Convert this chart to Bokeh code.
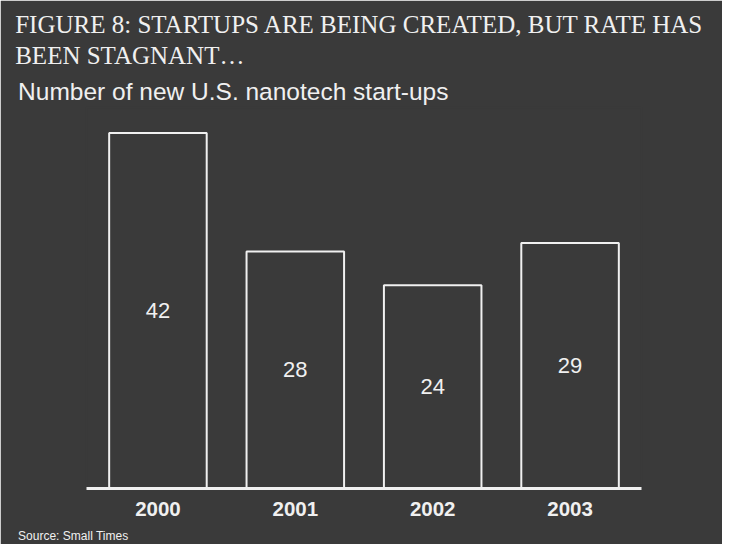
from bokeh.plotting import figure
from bokeh.models import FactorRange, Range1d, Title, ColumnDataSource
from bokeh.embed import file_html
from bokeh.resources import INLINE
from bokeh.core.properties import value

# ---- data ----
years = ["2000", "2001", "2002", "2003"]
startups = [42, 28, 24, 29]
title_line1 = "FIGURE 8: STARTUPS ARE BEING CREATED, BUT RATE HAS"
title_line2 = "BEEN STAGNANT…"
subtitle = "Number of new U.S. nanotech start-ups"
source_note = "Source: Small Times"

BG = "#3a3a3a"
FG = "#f0f0f0"

src = ColumnDataSource(dict(
    year=years,
    n=startups,
    mid=[v / 2 for v in startups],
    label=[str(v) for v in startups],
))

p = figure(
    width=722, height=544,
    x_range=FactorRange(*years, range_padding=0.01),
    y_range=Range1d(0, 45),
    output_backend="svg", toolbar_location=None,
    background_fill_color=BG, border_fill_color=BG,
    outline_line_color=BG, outline_line_width=1.5,
    min_border_left=86, min_border_right=81,
    min_border_top=0, min_border_bottom=0,
)
p.title.visible = False

p.vbar(x="year", top="n", width=0.71, source=src,
       fill_color=None, line_color=FG, line_width=2)

p.text(x="year", y="mid", text="label", source=src,
       text_align="center", text_baseline="middle",
       text_color=FG, text_font=value("Liberation Sans"),
       text_font_size="22px")

p.yaxis.visible = False
p.xgrid.grid_line_color = None
p.ygrid.grid_line_color = None

ax = p.xaxis[0]
ax.axis_line_color = FG
ax.axis_line_width = 3
ax.major_tick_line_color = None
ax.minor_tick_line_color = None
ax.major_tick_out = 0
ax.major_tick_in = 0
ax.major_label_standoff = 13
ax.major_label_text_color = FG
ax.major_label_text_font = "Liberation Sans"
ax.major_label_text_font_style = "bold"
ax.major_label_text_font_size = "20.5px"
ax.axis_label = " "
ax.axis_label_text_font_size = "3px"
ax.axis_label_standoff = 0

def add_title(text, place, font, size, standoff, offset):
    t = Title(text=text, align="left", offset=offset,
              text_font=font, text_font_size=size,
              text_font_style="normal", text_color=FG,
              standoff=standoff, background_fill_color=None)
    p.add_layout(t, place)

add_title(subtitle, "above", "Liberation Sans", "24.5px", 6, 17.6 - 86)
add_title(title_line2, "above", "Liberation Serif", "25px", 8, 14.7 - 86)
add_title(title_line1, "above", "Liberation Serif", "25px", -5, 14.7 - 86)
add_title(" ", "above", "Liberation Serif", "8px", 0, 0)
add_title(source_note, "below", "Liberation Sans", "12px", 4, 17.6 - 86)

open("out.html", "w").write(file_html(p, INLINE))
